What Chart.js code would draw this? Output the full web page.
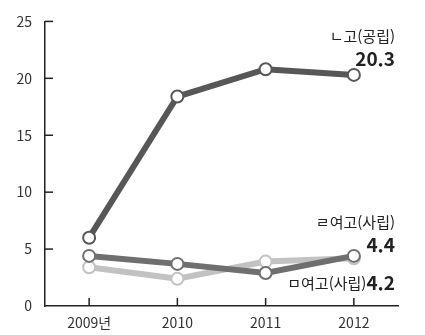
<!DOCTYPE html>
<html lang="ko">
<head>
<meta charset="utf-8">
<script src="https://cdn.jsdelivr.net/npm/chart.js@4/dist/chart.umd.min.js"></script>
<style>
  html, body { margin: 0; padding: 0; background: #fff; }
  #wrap { width: 425px; height: 335px; }
</style>
</head>
<body>
<div id="wrap"><canvas id="chart" width="425" height="335"></canvas></div>
<script>
"use strict";

// 연도 (x축)
let years = ['2009년', '2010', '2011', '2012'];
// 고(공립)
let gongValues = [6.0, 18.4, 20.8, 20.3];
// 여고(사립) ㄹ
let yeogoR = [4.4, 3.7, 2.9, 4.4];
// 여고(사립) ㅁ
let yeogoM = [3.4, 2.4, 3.9, 4.2];
// y축 눈금
let yTicks = [0, 5, 10, 15, 20, 25];

// 오른쪽 끝 라벨
let endLabels = [
  { name: 'ㄴ고(공립)', value: '20.3', series: gongValues },
  { name: 'ㄹ여고(사립)', value: '4.4', series: yeogoR },
  { name: 'ㅁ여고(사립)', value: '4.2', series: yeogoM }
];

const FONT = "'Noto Sans CJK KR', 'Noto Sans', sans-serif";

// 축 안쪽으로 향하는 눈금 + 끝 라벨 그리기
let decoPlugin = {
  id: 'deco',
  afterDraw(chart) {
    let ctx = chart.ctx;
    let xs = chart.scales.x;
    let ys = chart.scales.y;
    let area = chart.chartArea;
    ctx.save();
    ctx.strokeStyle = '#222';
    ctx.lineWidth = 1.5;
    for (let t of yTicks) {
      if (t === 0) continue;
      let py = ys.getPixelForValue(t);
      ctx.beginPath();
      ctx.moveTo(area.left, py);
      ctx.lineTo(area.left + 8, py);
      ctx.stroke();
    }
    for (let i = 0; i < years.length; i++) {
      let px = xs.getPixelForValue(i);
      ctx.beginPath();
      ctx.moveTo(px, area.bottom);
      ctx.lineTo(px, area.bottom - 8);
      ctx.stroke();
    }

    // 끝 라벨
    let last = years.length - 1;
    let right = area.right - 3;
    ctx.fillStyle = '#222';
    ctx.textAlign = 'right';
    ctx.textBaseline = 'middle';

    let y0 = ys.getPixelForValue(endLabels[0].series[last]);
    ctx.font = '15px ' + FONT;
    ctx.fillText(endLabels[0].name, right, y0 - 39);
    ctx.font = 'bold 19px ' + FONT;
    ctx.fillText(endLabels[0].value, right, y0 - 16);

    let y1 = ys.getPixelForValue(endLabels[1].series[last]);
    ctx.font = '15px ' + FONT;
    ctx.fillText(endLabels[1].name, right, y1 - 34);
    ctx.font = 'bold 19px ' + FONT;
    ctx.fillText(endLabels[1].value, right, y1 - 11);

    let y2 = ys.getPixelForValue(endLabels[2].series[last]);
    ctx.font = 'bold 19px ' + FONT;
    let vw = ctx.measureText(endLabels[2].value).width;
    ctx.fillText(endLabels[2].value, right, y2 + 25);
    ctx.font = '15px ' + FONT;
    ctx.fillText(endLabels[2].name, right - vw, y2 + 25);
    ctx.restore();
  }
};

function ds(data, color) {
  return {
    data: data,
    borderColor: color,
    borderWidth: 6,
    pointRadius: 6,
    pointBorderWidth: 2,
    pointBorderColor: color,
    pointBackgroundColor: '#fff',
    tension: 0
  };
}

window.onload = function () {
  let context = document.querySelector('#chart').getContext('2d');
  new Chart(context, {
    type: 'line',
    data: {
      labels: years,
      datasets: [
        ds(gongValues, '#575757'),
        ds(yeogoR, '#6f6f6f'),
        ds(yeogoM, '#c2c2c2')
      ]
    },
    options: {
      responsive: false,
      animation: false,
      layout: { padding: { top: 13, right: 27, left: 0, bottom: 0 } },
      plugins: {
        legend: { display: false },
        tooltip: { enabled: false }
      },
      scales: {
        x: {
          offset: true,
          grid: { drawOnChartArea: false, drawTicks: false },
          border: { color: '#222', width: 1.5 },
          ticks: { color: '#333', padding: 8, font: { family: FONT, size: 14 } },
          afterFit: function (scale) { scale.height = 29; }
        },
        y: {
          min: 0,
          max: 25,
          grid: { drawOnChartArea: false, drawTicks: false },
          border: { color: '#222', width: 1.5 },
          ticks: {
            stepSize: 5,
            color: '#333',
            padding: 13,
            font: { family: FONT, size: 14 }
          },
          afterFit: function (scale) { scale.width = 45; }
        }
      }
    },
    plugins: [decoPlugin]
  });
};
</script>
</body>
</html>
